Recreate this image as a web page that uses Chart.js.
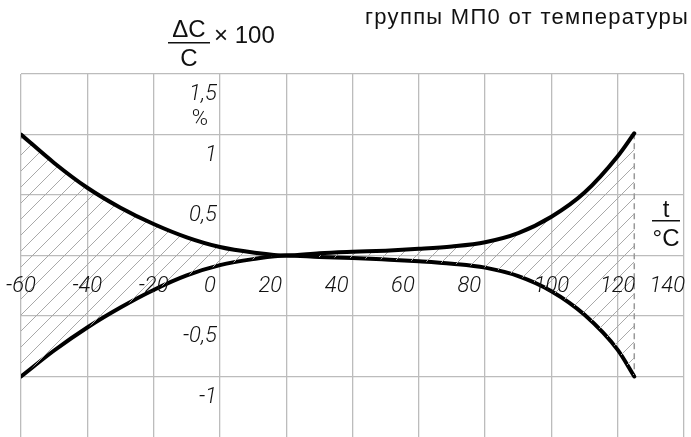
<!DOCTYPE html>
<html>
<head>
<meta charset="utf-8">
<script src="https://cdn.jsdelivr.net/npm/chart.js@4/dist/chart.umd.min.js"></script>
<style>
  body { margin: 0; background: #fff; }
  #wrap { width: 691px; height: 437px; position: relative; }
</style>
</head>
<body>
<div id="wrap"><canvas id="chart"></canvas></div>
<script>
// температура, °C
const temps = [-60, -50, -40, -30, -20, -10, 0, 10, 20, 30, 40, 50, 60, 70, 80, 90, 100, 110, 120, 125];
// верхняя и нижняя границы ΔC/C·100, %
const upper = [1.00, 0.765, 0.56, 0.395, 0.26, 0.15, 0.07, 0.025, 0, 0.018, 0.03, 0.04, 0.055, 0.075, 0.11, 0.185, 0.32, 0.52, 0.82, 1.01];
const lower = [-1.00, -0.785, -0.595, -0.43, -0.285, -0.165, -0.08, -0.03, 0, -0.012, -0.02, -0.033, -0.048, -0.068, -0.10, -0.17, -0.295, -0.49, -0.78, -1.00];
// предельная температура (штриховая линия)
const tMax = 125;

const xTicks = [-60, -40, -20, 0, 20, 40, 60, 80, 100, 120, 140];
const yTicks = [-1, -0.5, 0.5, 1, 1.5];
const yTickLabels = ['-1', '-0,5', '0,5', '1', '1,5'];

const labelFont = 'italic 300 22px Roboto, "Liberation Sans", sans-serif';

function hatch() {
    const c = document.createElement('canvas');
    c.width = 16; c.height = 16;
    const g = c.getContext('2d');
    g.strokeStyle = '#a9a9a9';
    g.lineWidth = 1;
    g.beginPath();
    g.moveTo(-2, 18); g.lineTo(18, -2);
    g.moveTo(-2, 2); g.lineTo(2, -2);
    g.moveTo(14, 18); g.lineTo(18, 14);
    g.stroke();
    return g.createPattern(c, 'repeat');
}

// подписи осей рисуем сами внутри поля графика
const labels = {
    id: 'labels',
    afterDraw(chart) {
        const ctx = chart.ctx;
        const xs = chart.scales.x, ys = chart.scales.y;
        const x0 = xs.getPixelForValue(0);
        const y0 = ys.getPixelForValue(0);
        ctx.save();
        ctx.fillStyle = '#111';
        ctx.font = labelFont;
        ctx.textBaseline = 'alphabetic';

        xTicks.forEach(v => {
            const px = xs.getPixelForValue(v);
            let x = px;
            if (v < 0 || v === 100 || v === 120) {
                ctx.textAlign = 'center';
            } else {
                ctx.textAlign = 'right';
                x = v === 140 ? px + 1 : px - 4;
            }
            ctx.fillText(String(v), x, y0 + 36);
        });

        ctx.textAlign = 'right';
        yTicks.forEach((v, i) => {
            ctx.fillText(yTickLabels[i], x0 - 3, ys.getPixelForValue(v) + 26);
        });

        ctx.font = '300 22px Roboto, "Liberation Sans", sans-serif';
        ctx.textAlign = 'center';
        ctx.fillText('%', x0 - 20, ys.getPixelForValue(1.5) + 51);

        // ΔC/C × 100
        ctx.font = '24px "Liberation Sans", Arial, sans-serif';
        ctx.fillText('ΔC', 189, 37);
        ctx.fillText('C', 189, 66);
        ctx.fillRect(168, 42, 42, 1.5);
        ctx.textAlign = 'left';
        ctx.fillText('× 100', 214, 43);

        // t / °C
        ctx.textAlign = 'center';
        ctx.font = '24px "Liberation Sans", Arial, sans-serif';
        ctx.fillText('t', 666, 217);
        ctx.fillText('°C', 666, 246);
        ctx.fillRect(652, 220, 28, 1.5);

        ctx.font = '22px "Liberation Sans", Arial, sans-serif';
        ctx.letterSpacing = '1.3px';
        ctx.textAlign = 'left';
        ctx.fillText('группы МП0 от температуры', 365, 24);
        ctx.restore();
    }
};

new Chart(document.getElementById('chart'), {
    type: 'line',
    data: {
        datasets: [
            {
                data: temps.map((t, i) => ({ x: t, y: upper[i] })),
                borderColor: '#000',
                borderWidth: 4,
                fill: { target: 1 },
                backgroundColor: hatch(),
                pointRadius: 0,
                cubicInterpolationMode: 'monotone',
                borderCapStyle: 'round'
            },
            {
                data: temps.map((t, i) => ({ x: t, y: lower[i] })),
                borderColor: '#000',
                borderWidth: 4,
                fill: false,
                pointRadius: 0,
                cubicInterpolationMode: 'monotone',
                borderCapStyle: 'round'
            },
            {
                data: [{ x: tMax, y: upper[upper.length - 1] }, { x: tMax, y: lower[lower.length - 1] }],
                borderColor: '#999',
                borderWidth: 1.5,
                borderDash: [6, 4],
                fill: false,
                pointRadius: 0
            }
        ]
    },
    options: {
        responsive: true,
        maintainAspectRatio: false,
        animation: false,
        layout: { padding: { left: 21, right: 7, top: 74, bottom: 0 } },
        plugins: { legend: { display: false }, tooltip: { enabled: false } },
        scales: {
            x: {
                type: 'linear', min: -60, max: 140,
                ticks: { display: false, stepSize: 20 },
                grid: { color: '#bcbcbc', lineWidth: 1.3, drawTicks: false },
                border: { display: false }
            },
            y: {
                min: -1.5, max: 1.5,
                ticks: { display: false, stepSize: 0.5 },
                grid: {
                    color: c => c.tick && c.tick.value === -1.5 ? 'rgba(0,0,0,0)' : '#bcbcbc',
                    lineWidth: 1.3, drawTicks: false
                },
                border: { display: false }
            }
        }
    },
    plugins: [labels]
});
</script>
</body>
</html>
